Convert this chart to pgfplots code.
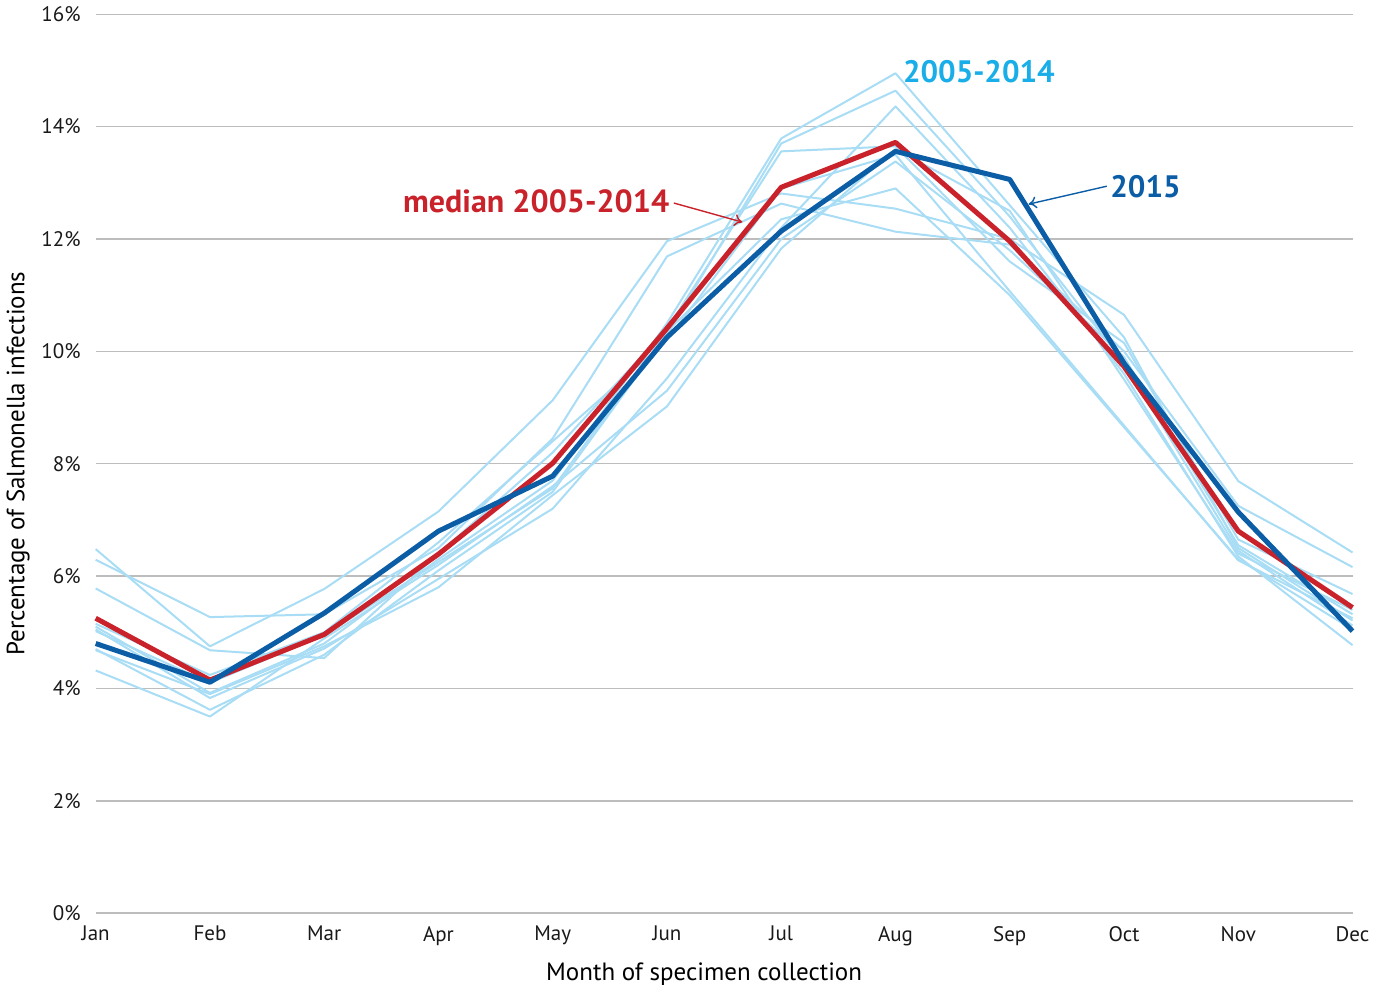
\documentclass[border=0pt]{standalone}
\usepackage{fontspec}
\setmainfont{PT Sans}
\usepackage{pgfplots}
\pgfplotsset{compat=1.18}
\usetikzlibrary{arrows.meta}
\definecolor{lightln}{HTML}{A8DDF5}
\definecolor{skyt}{HTML}{1AAEE8}
\definecolor{blue15}{HTML}{0B5DA6}
\definecolor{redmed}{HTML}{C9222B}
\definecolor{gridc}{HTML}{BDBDBD}
\begin{document}
\begin{tikzpicture}
\begin{axis}[
  scale only axis, width=628.5pt, height=449.5pt,
  xmin=0, xmax=11, ymin=0, ymax=16,
  xtick={0,...,11},
  xticklabels={Jan,Feb,Mar,Apr,May,Jun,Jul,Aug,Sep,Oct,Nov,Dec},
  ytick={0,2,...,16},
  yticklabel={\pgfmathprintnumber{\tick}\%},
  /pgf/number format/assume math mode=true,
  axis line style={draw=none},
  major tick length=0pt,
  ymajorgrids, grid style={gridc, line width=0.7pt},
  tick label style={font=\fontsize{10.5}{12}\selectfont, text=black!90},
  yticklabel style={xshift=-4pt},
  xticklabel style={yshift=-3pt},
  xlabel={Month of specimen collection},
  ylabel={Percentage of Salmonella infections},
  label style={font=\fontsize{12.5}{14}\selectfont},
  xlabel style={yshift=-1.5pt, xshift=-10pt},
  ylabel style={yshift=-1pt},
  clip=false,
]
\pgfplotsset{every axis plot/.append style={line join=round}}
% 2005-2014 individual years
\addplot[lightln, line width=1pt] coordinates {(0,6.48)(1,4.75)(2,5.77)(3,7.15)(4,9.13)(5,11.96)(6,12.81)(7,12.54)(8,12.00)(9,10.65)(10,7.69)(11,6.42)};
\addplot[lightln, line width=1pt] coordinates {(0,6.29)(1,5.27)(2,5.32)(3,6.50)(4,8.45)(5,11.69)(6,12.63)(7,12.13)(8,11.90)(9,10.00)(10,7.25)(11,6.16)};
\addplot[lightln, line width=1pt] coordinates {(0,5.10)(1,3.92)(2,4.80)(3,6.30)(4,7.70)(5,10.50)(6,13.79)(7,14.95)(8,12.60)(9,10.25)(10,6.50)(11,5.21)};
\addplot[lightln, line width=1pt] coordinates {(0,4.70)(1,3.62)(2,4.60)(3,6.10)(4,7.50)(5,10.30)(6,13.70)(7,14.64)(8,12.40)(9,9.80)(10,6.45)(11,5.12)};
\addplot[lightln, line width=1pt] coordinates {(0,5.05)(1,3.83)(2,4.71)(3,5.95)(4,7.20)(5,9.52)(6,12.20)(7,14.36)(8,12.20)(9,9.60)(10,6.35)(11,4.77)};
\addplot[lightln, line width=1pt] coordinates {(0,5.78)(1,4.68)(2,4.54)(3,6.40)(4,8.20)(5,10.40)(6,13.56)(7,13.65)(8,11.60)(9,10.15)(10,6.65)(11,5.68)};
\addplot[lightln, line width=1pt] coordinates {(0,4.32)(1,3.50)(2,4.89)(3,6.20)(4,7.60)(5,9.30)(6,12.00)(7,13.38)(8,11.80)(9,9.90)(10,6.55)(11,5.32)};
\addplot[lightln, line width=1pt] coordinates {(0,5.15)(1,4.24)(2,5.00)(3,6.60)(4,8.40)(5,10.20)(6,12.90)(7,13.50)(8,11.07)(9,8.68)(10,6.28)(11,5.25)};
\addplot[lightln, line width=1pt] coordinates {(0,4.68)(1,3.90)(2,4.75)(3,5.80)(4,7.44)(5,9.02)(6,11.83)(7,13.60)(8,12.50)(9,9.50)(10,6.40)(11,5.40)};
\addplot[lightln, line width=1pt] coordinates {(0,5.02)(1,4.10)(2,4.95)(3,6.25)(4,7.56)(5,10.35)(6,12.35)(7,12.90)(8,11.00)(9,8.65)(10,6.30)(11,5.05)};
% median 2005-2014
\addplot[redmed, line width=2.5pt] coordinates {(0,5.25)(1,4.15)(2,4.96)(3,6.39)(4,8.01)(5,10.41)(6,12.92)(7,13.72)(8,11.96)(9,9.73)(10,6.80)(11,5.44)};
% 2015
\addplot[blue15, line width=2.5pt] coordinates {(0,4.80)(1,4.11)(2,5.34)(3,6.80)(4,7.78)(5,10.25)(6,12.14)(7,13.56)(8,13.06)(9,9.79)(10,7.14)(11,5.02)};
% annotations
\node[text=skyt, font=\bfseries\fontsize{15.5}{18}\selectfont] at (axis cs:7.73,14.98) {2005-2014};
\node[text=redmed, font=\bfseries\fontsize{16}{18}\selectfont, anchor=east, inner sep=1pt] at (axis cs:5.04,12.67) {median 2005-2014};
\draw[redmed, line width=0.7pt, -{To[length=4pt,width=6pt]}] (axis cs:5.06,12.64) -- (axis cs:5.66,12.30);
\node[text=blue15, font=\bfseries\fontsize{15.5}{18}\selectfont, anchor=west, inner sep=1pt] at (axis cs:8.86,12.94) {2015};
\draw[blue15, line width=0.7pt, -{To[length=4pt,width=6pt]}] (axis cs:8.85,12.94) -- (axis cs:8.165,12.62);
\end{axis}
\end{tikzpicture}
\end{document}
